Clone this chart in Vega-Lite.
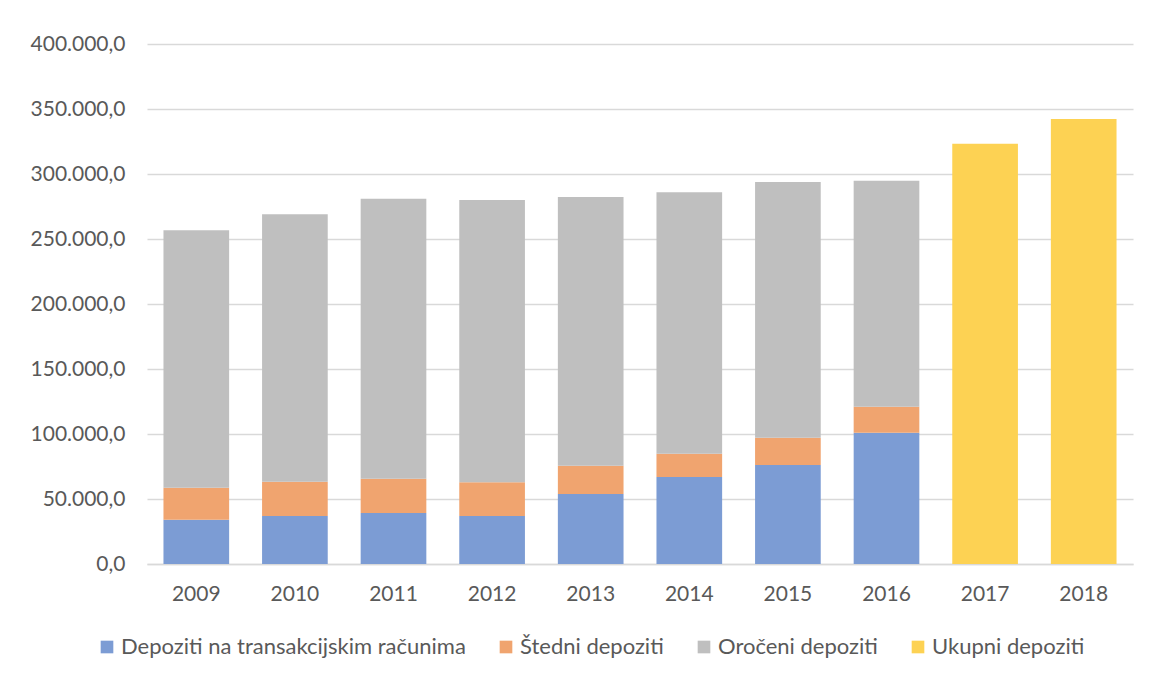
{
  "$schema": "https://vega.github.io/schema/vega-lite/v6.json",
  "width": 986,
  "height": 520,
  "autosize": {"type": "none"},
  "padding": {"left": 147, "top": 44, "right": 16, "bottom": 116},
  "background": "white",
  "config": {
    "locale": {"number": {"decimal": ",", "thousands": ".", "grouping": [3], "currency": ["", ""]}},
    "view": {"stroke": null},
    "font": "Lato"
  },
  "data": {
    "values": [
      {"godina": "2009", "serija": "Depoziti na transakcijskim računima", "red": 1, "iznos": 34100},
      {"godina": "2009", "serija": "Štedni depoziti", "red": 2, "iznos": 24600},
      {"godina": "2009", "serija": "Oročeni depoziti", "red": 3, "iznos": 198000},
      {"godina": "2010", "serija": "Depoziti na transakcijskim računima", "red": 1, "iznos": 36900},
      {"godina": "2010", "serija": "Štedni depoziti", "red": 2, "iznos": 26400},
      {"godina": "2010", "serija": "Oročeni depoziti", "red": 3, "iznos": 205700},
      {"godina": "2011", "serija": "Depoziti na transakcijskim računima", "red": 1, "iznos": 39200},
      {"godina": "2011", "serija": "Štedni depoziti", "red": 2, "iznos": 26400},
      {"godina": "2011", "serija": "Oročeni depoziti", "red": 3, "iznos": 215400},
      {"godina": "2012", "serija": "Depoziti na transakcijskim računima", "red": 1, "iznos": 36900},
      {"godina": "2012", "serija": "Štedni depoziti", "red": 2, "iznos": 25900},
      {"godina": "2012", "serija": "Oročeni depoziti", "red": 3, "iznos": 217200},
      {"godina": "2013", "serija": "Depoziti na transakcijskim računima", "red": 1, "iznos": 53800},
      {"godina": "2013", "serija": "Štedni depoziti", "red": 2, "iznos": 21800},
      {"godina": "2013", "serija": "Oročeni depoziti", "red": 3, "iznos": 206700},
      {"godina": "2014", "serija": "Depoziti na transakcijskim računima", "red": 1, "iznos": 66900},
      {"godina": "2014", "serija": "Štedni depoziti", "red": 2, "iznos": 17900},
      {"godina": "2014", "serija": "Oročeni depoziti", "red": 3, "iznos": 201100},
      {"godina": "2015", "serija": "Depoziti na transakcijskim računima", "red": 1, "iznos": 76200},
      {"godina": "2015", "serija": "Štedni depoziti", "red": 2, "iznos": 21000},
      {"godina": "2015", "serija": "Oročeni depoziti", "red": 3, "iznos": 196600},
      {"godina": "2016", "serija": "Depoziti na transakcijskim računima", "red": 1, "iznos": 101000},
      {"godina": "2016", "serija": "Štedni depoziti", "red": 2, "iznos": 20000},
      {"godina": "2016", "serija": "Oročeni depoziti", "red": 3, "iznos": 173900},
      {"godina": "2017", "serija": "Ukupni depoziti", "red": 4, "iznos": 323300},
      {"godina": "2018", "serija": "Ukupni depoziti", "red": 4, "iznos": 342300}
    ]
  },
  "mark": {"type": "bar"},
  "encoding": {
    "x": {
      "field": "godina",
      "type": "nominal",
      "title": null,
      "scale": {"paddingInner": 0.334, "paddingOuter": 0.167},
      "axis": {
        "labelAngle": 0,
        "labelFont": "Lato",
        "labelFontSize": 21,
        "labelColor": "#595959",
        "labelPadding": 19,
        "ticks": false,
        "domainColor": "#d9d9d9",
        "domainWidth": 1.5,
        "grid": false
      }
    },
    "y": {
      "field": "iznos",
      "type": "quantitative",
      "stack": "zero",
      "title": null,
      "scale": {"domain": [0, 400000], "nice": false},
      "axis": {
        "values": [0, 50000, 100000, 150000, 200000, 250000, 300000, 350000, 400000],
        "format": ",.1f",
        "labelFont": "Lato",
        "labelFontSize": 21,
        "labelColor": "#595959",
        "labelPadding": 22,
        "ticks": false,
        "domain": false,
        "gridColor": "#d9d9d9",
        "gridWidth": 1.3
      }
    },
    "color": {
      "field": "serija",
      "type": "nominal",
      "scale": {
        "domain": ["Depoziti na transakcijskim računima", "Štedni depoziti", "Oročeni depoziti", "Ukupni depoziti"],
        "range": ["#7c9cd4", "#f0a46f", "#bfbfbf", "#fdd253"]
      },
      "legend": {
        "title": null,
        "orient": "none",
        "direction": "horizontal",
        "legendX": -51,
        "legendY": 592,
        "symbolType": "square",
        "symbolSize": 160,
        "symbolOpacity": 1,
        "labelFont": "Lato",
        "labelFontSize": 22,
        "labelColor": "#595959",
        "labelOffset": 3,
        "columnPadding": 29,
        "labelLimit": 500
      }
    },
    "order": {"field": "red", "type": "quantitative"}
  }
}
